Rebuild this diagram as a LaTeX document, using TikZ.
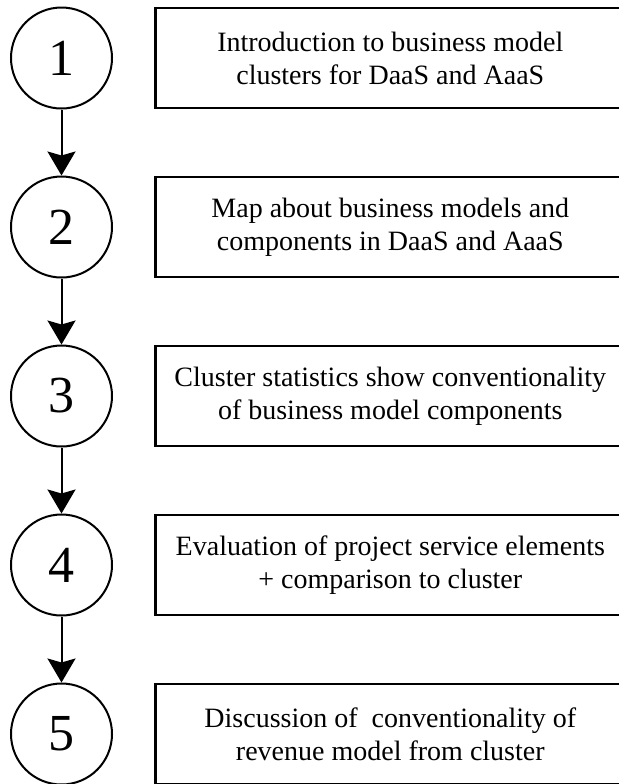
\documentclass[tikz,border=0pt]{standalone}
\usepackage{fontspec}
\setmainfont{Liberation Serif}
\usetikzlibrary{arrows.meta,positioning}

\begin{document}
\begin{tikzpicture}[x=0.5pt,y=0.5pt,
 num/.style={circle,draw,line width=1pt,minimum size=50.5pt,inner sep=0pt,font=\fontsize{26}{26}\selectfont},
 stepbox/.style={draw,line width=1.3pt,minimum width=235pt,minimum height=50pt,align=center,font=\fontsize{14}{16.5}\selectfont},
 flow/.style={-{Stealth[length=12pt,width=14pt,inset=2pt]},line width=1pt}]
\useasboundingbox (0,0) rectangle (618,-784);
\foreach \i/\txt in {1/{Introduction to business model\\clusters for DaaS and AaaS},
 2/{Map about business models and\\components in DaaS and AaaS},
 3/{Cluster statistics show conventionality\\of business model components},
 4/{Evaluation of project service elements\\+ comparison to cluster},
 5/{Discussion of~ conventionality of\\revenue model from cluster}}{
\node[num] (n\i) at (61.5,{-58-169*(\i-1)}) {\i};
\node[stepbox,right=20.5pt of n\i] (b\i) {\txt};}
\foreach \a/\b in {1/2,2/3,3/4,4/5}
\draw[flow] (n\a) -- (n\b);
\end{tikzpicture}
\end{document}
